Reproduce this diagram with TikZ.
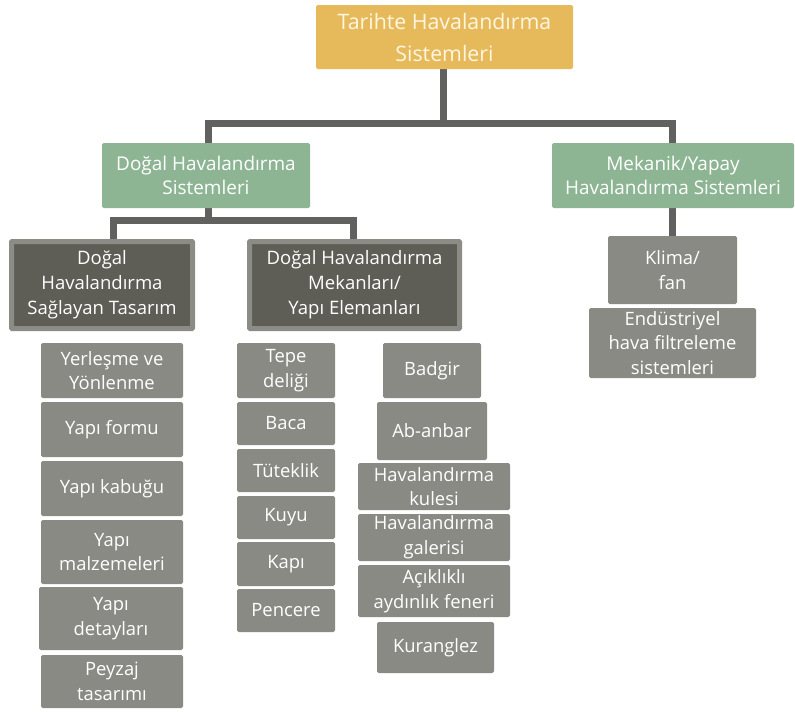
\documentclass[tikz,border=0pt]{standalone}
\usepackage{fontspec}
\setmainfont{Open Sans}
\usetikzlibrary{backgrounds}
\definecolor{gold}{HTML}{E6B95B}
\definecolor{cream}{HTML}{FFF7E2}
\definecolor{sage}{HTML}{8DB594}
\definecolor{itemgray}{HTML}{8A8A84}
\definecolor{darkfill}{HTML}{5E5E57}
\definecolor{darkedge}{HTML}{8C8C86}
\definecolor{conncol}{HTML}{616160}
\tikzset{
  base/.style={rectangle, inner sep=0pt, align=center, rounded corners=1.2pt, text=white},
  topbox/.style={base, fill=gold, text=cream, font=\fontsize{16}{24}\selectfont},
  greenbox/.style={base, fill=sage, font=\fontsize{14.2}{18}\selectfont},
  darkbox/.style={base, fill=darkfill, draw=darkedge, line width=3.75pt, rounded corners=0.5pt, font=\fontsize{13.9}{18.8}\selectfont},
  itembox/.style={base, fill=itemgray, font=\fontsize{13.8}{18.5}\selectfont},
  conn/.style={draw=conncol, line width=5.25pt, line join=miter}
}
\newcommand\bx[7]{%
  \pgfmathsetmacro\bxw{(#4-#2)*0.75}%
  \pgfmathsetmacro\bxh{(#5-#3)*0.75}%
  \node[#6, minimum width=\bxw pt, minimum height=\bxh pt] (#1) at ({(#2+#4)/2},{(#3+#5)/2}) {#7};}
\begin{document}
\begin{tikzpicture}[x=0.75pt, y=-0.75pt]
\useasboundingbox (0,0) rectangle (795,711);
% level 0/1
\bx{top}{316}{5}{573}{69}{topbox}{Tarihte Havalandırma\\Sistemleri}
\bx{dn}{102}{143}{310}{208}{greenbox}{Doğal Havalandırma\\Sistemleri}
\bx{mk}{552}{143}{794}{208}{greenbox}{Mekanik/Yapay\\Havalandırma Sistemleri}
% level 2
\bx{d1}{11.5}{241.5}{192.5}{328.5}{darkbox}{Doğal\\Havalandırma\\Sağlayan Tasarım}
\bx{d2}{249.5}{241.5}{459.5}{328.5}{darkbox}{Doğal Havalandırma\\Mekanları/\\Yapı Elemanları}
\bx{klima}{608}{236}{737}{304}{itembox}{Klima/\\fan}
\bx{endus}{589}{308}{756}{378}{itembox}{Endüstriyel\\hava filtreleme\\sistemleri}
% left column
\bx{a1}{41}{343}{183}{398}{itembox}{Yerleşme ve\\Yönlenme}
\bx{a2}{41}{402}{183}{457}{itembox}{Yapı formu}
\bx{a3}{41}{461}{183}{516}{itembox}{Yapı kabuğu}
\bx{a4}{41}{520}{183}{584}{itembox}{Yapı\\malzemeleri}
\bx{a5}{39}{587}{183}{650}{itembox}{Yapı\\detayları}
\bx{a6}{41}{655}{183}{708}{itembox}{Peyzaj\\tasarımı}
% middle column
\bx{b1}{237}{343}{335}{398}{itembox}{Tepe\\deliği}
\bx{b2}{237}{402}{335}{445}{itembox}{Baca}
\bx{b3}{237}{449}{335}{492}{itembox}{Tüteklik}
\bx{b4}{237}{496}{335}{539}{itembox}{Kuyu}
\bx{b5}{237}{542}{335}{586}{itembox}{Kapı}
\bx{b6}{237}{589}{335}{632}{itembox}{Pencere}
% right column
\bx{c1}{383}{343}{481}{398}{itembox}{Badgir}
\bx{c2}{377}{402}{487}{460}{itembox}{Ab-anbar}
\bx{c3}{358}{463}{510}{510}{itembox}{Havalandırma\\kulesi}
\bx{c4}{358}{514}{510}{561}{itembox}{Havalandırma\\galerisi}
\bx{c5}{358}{565}{510}{617}{itembox}{Açıklıklı\\aydınlık feneri}
\bx{c6}{377}{622}{494}{673}{itembox}{Kuranglez}
% connectors
\coordinate (j1) at (443,123);
\coordinate (j2) at (208,220);
\coordinate (vx1) at (208,0);
\coordinate (vx2) at (672,0);
\coordinate (vx3) at (113,0);
\coordinate (vx4) at (353,0);
\begin{pgfonlayer}{background}
\fill[white] (0,0) rectangle (795,711);
\draw[conn] (top.south -| j1) -- (j1);
\draw[conn] (dn.north -| vx1) |- (j1) -| (mk.north -| vx2);
\draw[conn] (dn.south -| vx1) -- (j2);
\draw[conn] (d1.north -| vx3) |- (j2) -| (d2.north -| vx4);
\draw[conn] (mk.south -| vx2) -- (klima.north -| vx2);
\end{pgfonlayer}
\end{tikzpicture}
\end{document}
